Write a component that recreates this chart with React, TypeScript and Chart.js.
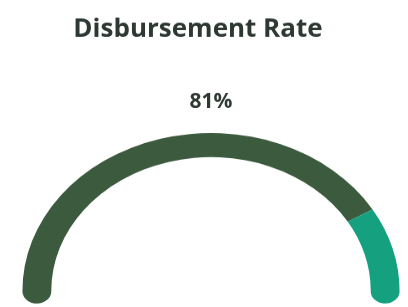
import React, { useEffect, useRef } from "react";
import { Chart, registerables } from "chart.js";

Chart.register(...registerables);

const titleText = "Disbursement Rate";
const categories = ["Disbursed", "Remaining"];
const values = [81, 19];
const valueLabel = "81%";
const colors = ["#3c5a3d", "#15a080"];

const W = 408;
const H = 307;
const SQUASH = 0.836; // vertical display scale of the gauge canvas
const IH = Math.round(H / SQUASH);

export default function App() {
  const ref = useRef<HTMLCanvasElement | null>(null);

  useEffect(() => {
    document.body.style.margin = "0";
    const canvas = ref.current;
    if (!canvas) return;

    const textPlugin = {
      id: "gaugeText",
      afterDraw(chart: any) {
        const ctx = chart.ctx;
        ctx.save();
        ctx.scale(1, 1 / SQUASH);
        ctx.fillStyle = "#2c3831";
        ctx.textAlign = "center";
        ctx.textBaseline = "alphabetic";
        ctx.font = "bold 26px 'Open Sans'";
        ctx.fillText(titleText, 198, 37);
        ctx.font = "bold 21px 'Open Sans'";
        ctx.fillText(valueLabel, 211, 107.5);
        ctx.restore();
      },
    };

    const chart = new Chart(canvas, {
      type: "doughnut",
      data: {
        labels: categories,
        datasets: [
          {
            data: values,
            backgroundColor: colors,
            borderWidth: 0,
            borderRadius: [
              { outerStart: 15, innerStart: 15, outerEnd: 0, innerEnd: 0 },
              { outerStart: 0, innerStart: 0, outerEnd: 15, innerEnd: 15 },
            ] as any,
          },
        ],
      },
      options: {
        responsive: false,
        animation: false,
        devicePixelRatio: 1,
        rotation: -95,
        circumference: 190,
        cutout: "84.7%",
        layout: {
          padding: { left: 22, right: 8, top: 159, bottom: IH - 159 - 205 },
        },
        plugins: {
          legend: { display: false },
          tooltip: { enabled: false },
          title: { display: false },
        },
      },
      plugins: [textPlugin],
    });

    return () => chart.destroy();
  }, []);

  return (
    <div style={{ width: W, height: H, background: "#fff" }}>
      <canvas
        ref={ref}
        width={W}
        height={IH}
        style={{ display: "block", width: W + "px", height: H + "px" }}
      />
    </div>
  );
}
